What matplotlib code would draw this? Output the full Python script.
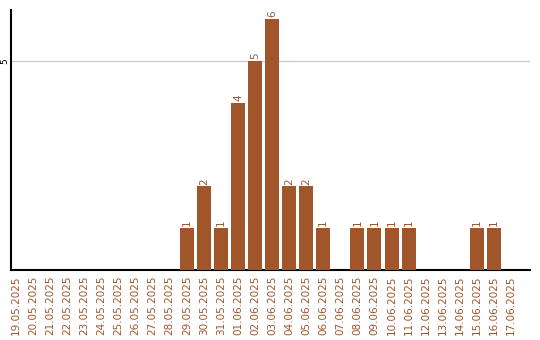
import matplotlib
matplotlib.use("Agg")
import matplotlib.pyplot as plt

# Data
DATES = ["19.05.2025", "20.05.2025", "21.05.2025", "22.05.2025", "23.05.2025",
         "24.05.2025", "25.05.2025", "26.05.2025", "27.05.2025", "28.05.2025",
         "29.05.2025", "30.05.2025", "31.05.2025", "01.06.2025", "02.06.2025",
         "03.06.2025", "04.06.2025", "05.06.2025", "06.06.2025", "07.06.2025",
         "08.06.2025", "09.06.2025", "10.06.2025", "11.06.2025", "12.06.2025",
         "13.06.2025", "14.06.2025", "15.06.2025", "16.06.2025", "17.06.2025"]
COUNTS = [0, 0, 0, 0, 0, 0, 0, 0, 0, 0,
          1, 2, 1, 4, 5, 6, 2, 2, 1, 0,
          1, 1, 1, 1, 0, 0, 0, 1, 1, 0]
Y_TICKS = [5]

BAR_COLOR = "#a0562a"
TEXT_COLOR = "#a0562a"

fig = plt.figure(figsize=(5.4, 3.4), dpi=100)
ax = fig.add_axes([0.0204, 0.206, 0.9606, 0.765])

x = list(range(len(DATES)))
ax.bar(x, COUNTS, width=0.82, color=BAR_COLOR, zorder=3)

for xi, v in zip(x, COUNTS):
    if v > 0:
        ax.text(xi, v + 0.04, str(v), rotation=90, ha="center", va="bottom",
                fontsize=7.5, color=TEXT_COLOR)

ax.set_xlim(-0.3, 30.1)
ax.set_ylim(0, 6.22)
ax.set_xticks(x)
ax.set_xticklabels(DATES, rotation=90, fontsize=7.5, color=TEXT_COLOR)
ax.set_yticks(Y_TICKS)
ax.set_yticklabels([str(t) for t in Y_TICKS], rotation=90, fontsize=6.5,
                   va="center", color="black")
ax.tick_params(length=0)
ax.tick_params(axis="y", pad=1)
ax.tick_params(axis="x", pad=4)
ax.yaxis.grid(True, color="#cccccc", linewidth=1, zorder=0)

for s in ["top", "right"]:
    ax.spines[s].set_visible(False)
ax.spines["left"].set_linewidth(1.5)
ax.spines["bottom"].set_linewidth(1.5)

fig.savefig("out.png", dpi=100)
